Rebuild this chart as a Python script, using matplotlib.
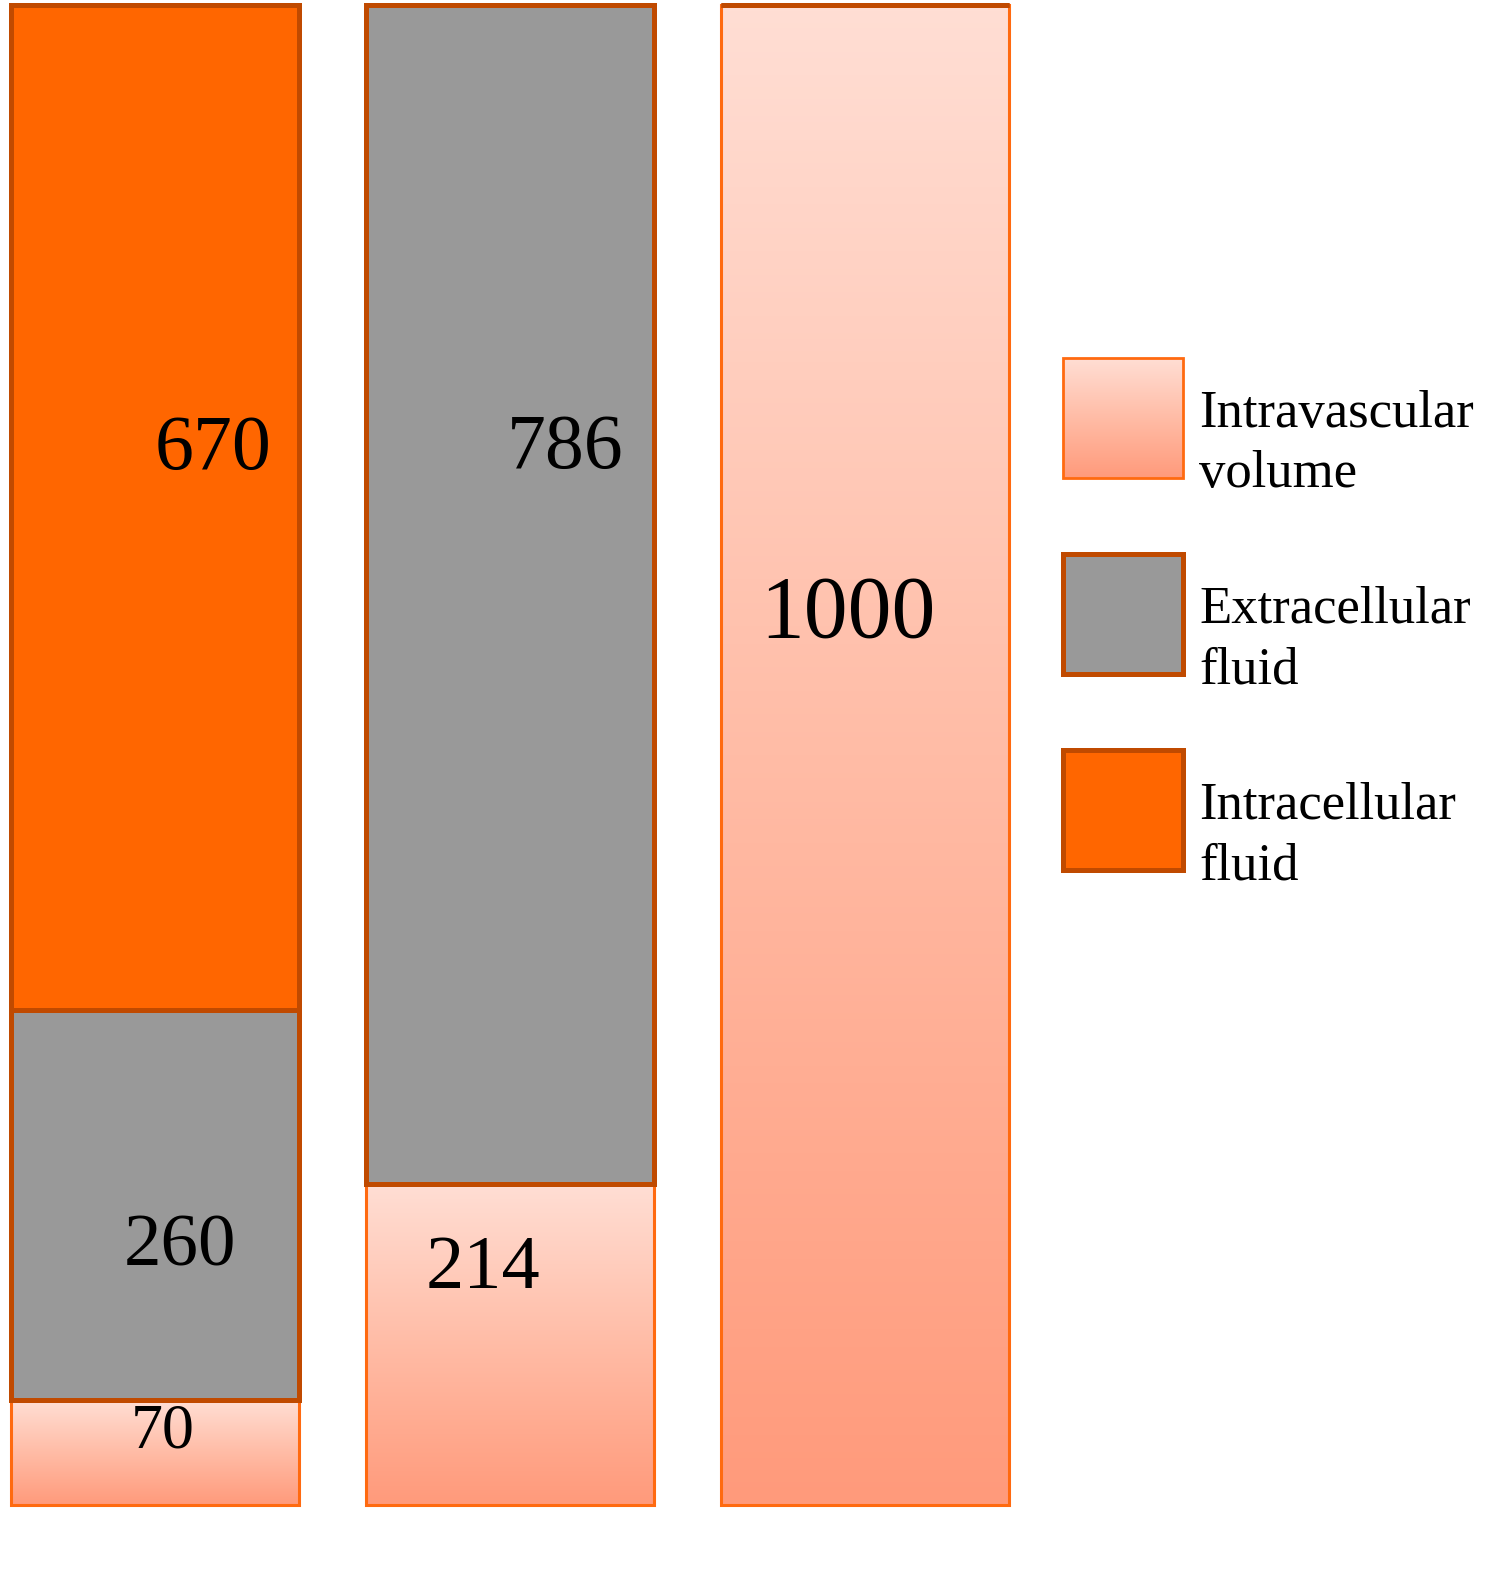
import numpy as np
import matplotlib
matplotlib.use("Agg")
import matplotlib.pyplot as plt
from matplotlib.colors import LinearSegmentedColormap
from matplotlib.patches import Rectangle

# Data
columns = [0, 1, 2]
intravascular = [70, 214, 1000]
extracellular = [260, 786, 0]
intracellular = [670, 0, 0]
legend_labels = ["Intravascular\nvolume", "Extracellular\nfluid", "Intracellular\nfluid"]

# Styles
orange = "#FF6600"
grey = "#999999"
dark_edge = "#C04A00"
light_edge = "#FF6A10"
grad = LinearSegmentedColormap.from_list("pinkgrad", ["#FFDED4", "#FFBCA6", "#FF9A7B"])
serif = ["Liberation Serif", "DejaVu Serif"]
width = 0.814

fig = plt.figure(figsize=(14.99, 15.96), dpi=100)
ax = fig.add_axes([0, 0, 1, 1])


def gradient_bar(ax, x, h, bottom, cmap):
    bars = ax.bar(x, h, width, bottom=bottom, facecolor="none",
                  edgecolor=light_edge, linewidth=2.2, zorder=3)
    for b in bars:
        if b.get_height() <= 0:
            continue
        x0, y0 = b.get_x(), b.get_y()
        im = ax.imshow(np.linspace(0, 1, 256)[:, None], cmap=cmap, aspect="auto",
                       extent=(x0, x0 + b.get_width(), y0, y0 + b.get_height()),
                       origin="upper", zorder=2)
        im.set_clip_path(b)
    return bars


gradient_bar(ax, columns, intravascular, 0, grad)
ax.bar(columns, extracellular, width, bottom=intravascular, color=grey,
       edgecolor=dark_edge, linewidth=3.6, zorder=3)
base3 = np.array(intravascular) + np.array(extracellular)
ax.bar(columns, intracellular, width, bottom=base3, color=orange,
       edgecolor=dark_edge, linewidth=3.6, zorder=3)

# value labels at segment centres, nudged like the original slide
offsets = {
    (0, "iv"): (8, 20, 46), (0, "ec"): (25, -43, 54), (0, "ic"): (58, 57, 56),
    (1, "iv"): (-27, 75, 55), (1, "ec"): (55, 145, 56),
    (2, "iv"): (-17, 140, 63),
}
for i in columns:
    segs = [("iv", 0, intravascular[i]),
            ("ec", intravascular[i], extracellular[i]),
            ("ic", base3[i], intracellular[i])]
    for key, bot, val in segs:
        if val <= 0:
            continue
        dx, dy, fs = offsets[(i, key)]
        ax.annotate(str(val), (i, bot + val / 2), xytext=(dx, dy),
                    textcoords="offset pixels", ha="center", va="center",
                    fontsize=fs, family=serif, zorder=5)

px = 355.0
ax.set_xlim(-155 / px, (1499 - 155) / px)
ax.set_ylim(-91 / 1.5, 1000 + 5 / 1.5)
ax.axis("off")

# Legend drawn by hand in pixel space
lax = fig.add_axes([0, 0, 1, 1])
lax.set_xlim(0, 1499)
lax.set_ylim(1596, 0)
lax.axis("off")
sw_tops = [358, 554, 750]
sw_left, sw_size = 1063, 120
fills = [None, grey, orange]
for top, lab, fill in zip(sw_tops, legend_labels, fills):
    if fill is None:
        r = Rectangle((sw_left, top), sw_size, sw_size, facecolor="none",
                      edgecolor=light_edge, linewidth=2, zorder=3)
        lax.add_patch(r)
        lax.imshow(np.linspace(0, 1, 256)[:, None], cmap=grad, aspect="auto",
                   extent=(sw_left, sw_left + sw_size, top + sw_size, top),
                   origin="upper", zorder=2)
    else:
        lax.add_patch(Rectangle((sw_left, top), sw_size, sw_size, facecolor=fill,
                                edgecolor=dark_edge, linewidth=3.6, zorder=3))
    lax.text(1199, top + sw_size / 2 + 26, lab, ha="left", va="center",
             fontsize=38, family=serif, linespacing=1.35)
lax.set_xlim(0, 1499)
lax.set_ylim(1596, 0)

fig.savefig("out.png", dpi=100, facecolor="white")
